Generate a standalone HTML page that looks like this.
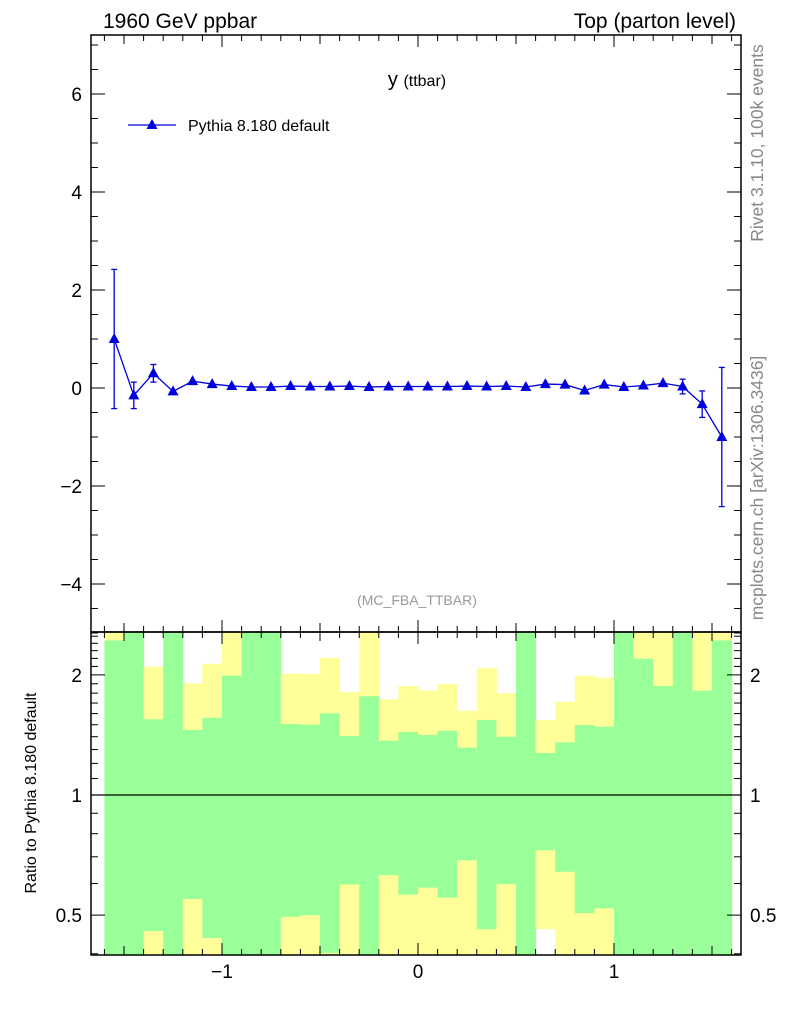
<!DOCTYPE html>
<html><head><meta charset="utf-8"><style>
body{margin:0;background:#fff;}
svg{font-family:"Liberation Sans",sans-serif;}
</style></head><body>
<svg id="c" width="786" height="1024" xmlns="http://www.w3.org/2000/svg"></svg>
<script>
const xCenters=[-1.55,-1.45,-1.35,-1.25,-1.15,-1.05,-0.95,-0.85,-0.75,-0.65,-0.55,-0.45,-0.35,-0.25,-0.15,-0.05,0.05,0.15,0.25,0.35,0.45,0.55,0.65,0.75,0.85,0.95,1.05,1.15,1.25,1.35,1.45,1.55];
const yVals=[1.0,-0.15,0.3,-0.07,0.14,0.08,0.04,0.02,0.02,0.04,0.03,0.03,0.04,0.02,0.03,0.03,0.03,0.03,0.04,0.03,0.04,0.02,0.08,0.07,-0.05,0.07,0.02,0.05,0.1,0.03,-0.33,-1.0];
const yErr=[1.42,0.27,0.18,0.06,0.04,0.03,0.03,0.03,0.03,0.03,0.03,0.03,0.03,0.03,0.03,0.03,0.03,0.03,0.03,0.03,0.03,0.03,0.03,0.03,0.03,0.03,0.04,0.04,0.05,0.15,0.27,1.42];
const gUp=[2.44,3,1.548,3,1.455,1.562,1.991,3,3,1.506,1.5,1.602,1.406,1.768,1.368,1.439,1.414,1.449,1.314,1.542,1.4,3,1.274,1.355,1.497,1.483,3,2.196,1.876,3,1.826,2.44];
const yUp=[3,3,2.097,3,1.905,2.134,3,3,3,2.014,2.01,2.205,1.812,3,1.738,1.876,1.83,1.90,1.626,2.08,1.80,3,1.542,1.713,1.991,1.968,3,3,3,3,3,3];
const gLo=[0.3,0.3,0.456,0.3,0.549,0.438,0.3,0.3,0.3,0.495,0.5,0.402,0.597,0.3,0.63,0.563,0.586,0.553,0.686,0.461,0.598,0.3,0.727,0.642,0.506,0.52,0.3,0.3,0.3,0.3,0.3,0.3];
const yLo=[0.3,0.3,0.3,0.3,0.3,0.3,0.3,0.3,0.3,0.3,0.3,0.3,0.3,0.3,0.3,0.3,0.3,0.3,0.3,0.3,0.3,0.3,0.461,0.3,0.3,0.3,0.3,0.3,0.3,0.3,0.3,0.3];
const mainTicks=[-4,-2,0,2,4,6];
const ratioTicks=[0.5,1,2];
const xTicks=[-1,0,1];
const binW=0.1;

const S=document.getElementById('c');const NS='http://www.w3.org/2000/svg';
function mk(t,a,p){const e=document.createElementNS(NS,t);for(const k in a)e.setAttribute(k,a[k]);(p||S).appendChild(e);return e;}
const L=91,R=741,T=35,M=632,B=955;
const X=v=>418+v*196;
const Y=v=>388-v*49;
const RY=v=>{let y=795-Math.log10(v)*399;return Math.max(M,Math.min(B,y));};

const bands=mk('g',{});


xCenters.forEach((c,i)=>{
  const x0=X(c-binW/2),x1=X(c+binW/2);
  const yb=mk('rect',{x:x0,y:RY(yUp[i]),width:x1-x0+0.5,height:RY(yLo[i])-RY(yUp[i]),fill:'#ffff99'},bands);
  
  
  const gb=mk('rect',{x:x0,y:RY(gUp[i]),width:x1-x0+0.5,height:RY(gLo[i])-RY(gUp[i]),fill:'#99ff99'},bands);
  
  
});
const one=mk('line',{x1:L,x2:R,y1:RY(1),y2:RY(1),stroke:'#000','stroke-width':1.3});



const f1=mk('rect',{x:L,y:T,width:R-L,height:M-T,fill:'none',stroke:'#000','stroke-width':1.5});

const f2=mk('rect',{x:L,y:M,width:R-L,height:B-M,fill:'none',stroke:'#000','stroke-width':1.5});


for(let k=-16;k<=16;k++){const v=k/10,x=X(v);
  const maj=(k%10===0),med=(k%5===0);const len=maj?12:(med?9:6);
  [[T,1],[M,1],[M,-1],[B,-1]].forEach(([y0,d])=>{
    const t=mk('line',{x1:x,x2:x,y1:y0,y2:y0+d*len,stroke:'#000','stroke-width':1});
    });
}
xTicks.forEach(v=>{const t=mk('text',{x:X(v),y:978,'font-size':19,'text-anchor':'middle'});t.textContent=v<0?'\u2212'+Math.abs(v):String(v);
  });

for(let k=-10;k<=14;k++){const v=k/2,y=Y(v);const maj=(k%4===0);const len=maj?14:7;
  [[L,1],[R,-1]].forEach(([x0,d])=>{const t=mk('line',{x1:x0,x2:x0+d*len,y1:y,y2:y,stroke:'#000','stroke-width':1});
  });}
mainTicks.forEach(v=>{const t=mk('text',{x:82,y:Y(v)+7,'font-size':19,'text-anchor':'end'});t.textContent=v<0?'\u2212'+Math.abs(v):String(v);
  });

for(let k=4;k<=25;k++){const v=k/10,y=RY(v);if(y<=M||y>=B)continue;const maj=(k===5||k===10||k===20);const len=maj?14:7;
  [[L,1],[R,-1]].forEach(([x0,d])=>{const t=mk('line',{x1:x0,x2:x0+d*len,y1:y,y2:y,stroke:'#000','stroke-width':1});
  });}
ratioTicks.forEach(v=>{[[82,'end'],[750,'start']].forEach(([x,a])=>{const t=mk('text',{x:x,y:RY(v)+7,'font-size':19,'text-anchor':a});t.textContent=String(v);
  });});

const g=mk('g',{});
mk('polyline',{points:xCenters.map((c,i)=>X(c)+','+Y(yVals[i])).join(' '),fill:'none',stroke:'#0000dd','stroke-width':1.3},g);
xCenters.forEach((c,i)=>{const x=X(c),y=Y(yVals[i]),e=yErr[i];
  const y1=Y(yVals[i]+e),y2=Y(yVals[i]-e);
  if(y2-y1>8){mk('line',{x1:x,x2:x,y1:y1,y2:y2,stroke:'#0000dd','stroke-width':1.3},g);
    mk('line',{x1:x-3,x2:x+3,y1:y1,y2:y1,stroke:'#0000dd','stroke-width':1.3},g);
    mk('line',{x1:x-3,x2:x+3,y1:y2,y2:y2,stroke:'#0000dd','stroke-width':1.3},g);}
  const p=mk('polygon',{points:`${x},${y-6} ${x-5.5},${y+4} ${x+5.5},${y+4}`,fill:'#0000dd'},g);
  
});

function txt(s,a,name){const t=mk('text',a);t.textContent=s;return t;}
txt('1960 GeV ppbar',{x:103,y:28,'font-size':21},'energy-label');
txt('Top (parton level)',{x:736,y:28,'font-size':21,'text-anchor':'end'},'process-label');
const tt=txt('',{x:417,y:86,'text-anchor':'middle','font-size':20},'plot-title');
tt.innerHTML='y <tspan font-size="16">(ttbar)</tspan>';
const lg=mk('g',{});
mk('line',{x1:128,x2:176,y1:125,y2:125,stroke:'#0000dd','stroke-width':1.3},lg);
mk('polygon',{points:'152,119 146.5,129 157.5,129',fill:'#0000dd'},lg);
txt('Pythia 8.180 default',{x:188,y:131,'font-size':16},'legend-label');
txt('(MC_FBA_TTBAR)',{x:417,y:605,'font-size':14,'text-anchor':'middle',fill:'#999'},'analysis-id');
txt('Rivet 3.1.10,  100k events',{x:0,y:0,'font-size':17.5,fill:'#888','text-anchor':'middle',transform:'translate(763,143) rotate(-90)'},'rivet-version');
txt('mcplots.cern.ch [arXiv:1306.3436]',{x:0,y:0,'font-size':17.5,fill:'#888','text-anchor':'middle',transform:'translate(763,488) rotate(-90)'},'mcplots-credit');
txt('Ratio to Pythia 8.180 default',{x:0,y:0,'font-size':16,'text-anchor':'middle',transform:'translate(36,793) rotate(-90)'},'ratio-y-axis-title');
</script>
</body></html>
